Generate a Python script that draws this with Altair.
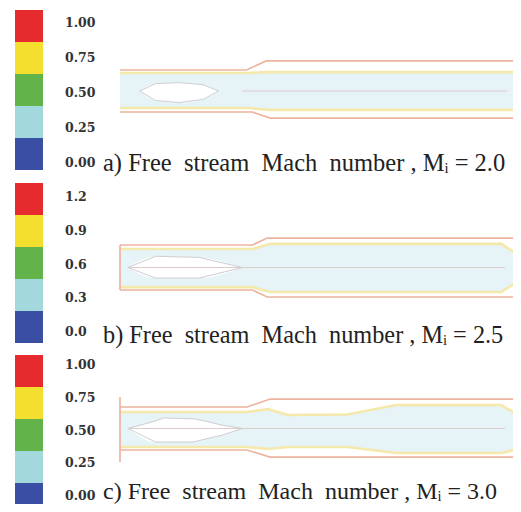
import altair as alt
import pandas as pd

# ---------------- colour bars ----------------
LEVEL_COLORS = ["#3a4ea3", "#a3d8dc", "#63b34b", "#f5df2e", "#e52b2e"]  # bottom -> top
LABELS_A = [0.00, 0.25, 0.50, 0.75, 1.00]
LABELS_B = [0.0, 0.3, 0.6, 0.9, 1.2]
LABELS_C = [0.00, 0.25, 0.50, 0.75, 1.00]
LABEL_FMT = ["{:.2f}", "{:.1f}", "{:.2f}"]
PREFIX = ["a)", "b)", "c)"]
MACH = [2.0, 2.5, 3.0]

# ---------------- contours (x = axial x/D, r = radial r/R) ----------------
# panel a, M = 2.0
A_OUT_TOP_X = [0, 6.4, 7.4, 20]
A_OUT_TOP_R = [1.0, 1.0, 1.43, 1.43]
A_OUT_BOT_X = [0, 6.7, 7.6, 20]
A_OUT_BOT_R = [-1.0, -1.0, -1.29, -1.29]
A_BAND_X = [0, 6.5, 7.5, 20]
A_BAND_TOP = [0.86, 0.86, 0.9, 0.9]
A_BAND_BOT = [-0.81, -0.81, -0.9, -0.9]
A_LENS_X = [1.0, 1.8, 3.0, 4.2, 5.0]
A_LENS_TOP = [0.0, 0.35, 0.4, 0.3, 0.0]
A_LENS_BOT = [0.0, -0.45, -0.55, -0.4, 0.0]
A_AXIS_X = [6.2, 19.6]
A_WALL_R = []

# panel b, M = 2.5
B_OUT_TOP_X = [0, 6.7, 7.45, 20]
B_OUT_TOP_R = [1.0, 1.0, 1.31, 1.31]
B_OUT_BOT_X = [0, 6.7, 7.45, 20]
B_OUT_BOT_R = [-1.0, -1.0, -1.31, -1.31]
B_BAND_X = [0, 6.7, 7.6, 19.3, 20]
B_BAND_TOP = [0.82, 0.82, 1.05, 1.05, 0.65]
B_BAND_BOT = [-0.87, -0.87, -1.09, -1.09, -0.7]
B_LENS_X = [0.4, 1.8, 4.0, 6.2]
B_LENS_TOP = [0.0, 0.5, 0.45, 0.0]
B_LENS_BOT = [0.0, -0.47, -0.47, 0.0]
B_AXIS_X = [0.4, 19.5]
B_WALL_R = [-1.0, 1.0]

# panel c, M = 3.0
C_OUT_TOP_X = [0, 6.43, 7.6, 20]
C_OUT_TOP_R = [1.0, 1.0, 1.37, 1.37]
C_OUT_BOT_X = [0, 6.43, 7.6, 20]
C_OUT_BOT_R = [-1.0, -1.0, -1.33, -1.33]
C_BAND_X = [0, 6.4, 7.5, 8.5, 11.5, 14.0, 19.3, 20]
C_BAND_TOP = [0.77, 0.77, 0.9, 0.63, 0.65, 1.09, 1.09, 0.72]
C_BAND_BOT = [-0.86, -0.86, -0.95, -0.86, -0.86, -1.14, -1.14, -1.0]
C_LENS_X = [0.4, 1.8, 2.2, 3.7, 4.05, 5.2, 6.2]
C_LENS_TOP = [0.0, 0.35, 0.49, 0.45, 0.4, 0.15, 0.0]
C_LENS_BOT = [0.0, -0.63, -0.63, -0.63, -0.55, -0.3, 0.0]
C_AXIS_X = [0.4, 19.5]
C_WALL_R = [-1.56, 1.46]

PANELS = [
    dict(out_top=(A_OUT_TOP_X, A_OUT_TOP_R), out_bot=(A_OUT_BOT_X, A_OUT_BOT_R),
         band=(A_BAND_X, A_BAND_TOP, A_BAND_BOT), lens=(A_LENS_X, A_LENS_TOP, A_LENS_BOT),
         axis=A_AXIS_X, wall=A_WALL_R, labels=LABELS_A),
    dict(out_top=(B_OUT_TOP_X, B_OUT_TOP_R), out_bot=(B_OUT_BOT_X, B_OUT_BOT_R),
         band=(B_BAND_X, B_BAND_TOP, B_BAND_BOT), lens=(B_LENS_X, B_LENS_TOP, B_LENS_BOT),
         axis=B_AXIS_X, wall=B_WALL_R, labels=LABELS_B),
    dict(out_top=(C_OUT_TOP_X, C_OUT_TOP_R), out_bot=(C_OUT_BOT_X, C_OUT_BOT_R),
         band=(C_BAND_X, C_BAND_TOP, C_BAND_BOT), lens=(C_LENS_X, C_LENS_TOP, C_LENS_BOT),
         axis=C_AXIS_X, wall=C_WALL_R, labels=LABELS_C),
]

# ---------------- layout (pixels inside the 505 x 496 chart) ----------------
W, H = 505, 496
X_RANGE = [112, 507]
Y_RANGES = [[125, 41], [304.5, 214.5], [463.5, 377.5]]
BAR_RANGES = [[162, 2], [335, 175], [507, 347]]
LABEL_RANGES = [[155, 15], [324, 189], [488, 357]]
CAPTION_Y = [163, 335, 491]
CAPTION_SIZE = [24.5, 24.3, 24]
STYLE = {
    "outer": ("#eeb4a0", 1.7),
    "wall": ("#eeb4a0", 1.7),
    "yellow": ("#f4e8ab", 2.6),
    "axis": ("#dccccb", 1.0),
    "lens": ("#cfcdd0", 1.0),
}
BAND_COLOR = "#e6f3f7"
SP = "\u00a0 "  # wide gap between words

layers = []
for p, P in enumerate(PANELS):
    xs = alt.Scale(domain=[0, 20], range=X_RANGE)
    ys = alt.Scale(domain=[-2, 2], range=Y_RANGES[p])

    # colour bar
    bar = pd.DataFrame({"lo": list(range(5)), "hi": [k + 1 for k in range(5)], "col": LEVEL_COLORS})
    layers.append(
        alt.Chart(bar).mark_rect().encode(
            x=alt.value(7), x2=alt.value(35),
            y=alt.Y("lo:Q", scale=alt.Scale(domain=[0, 5], range=BAR_RANGES[p]), axis=None),
            y2="hi:Q",
            color=alt.Color("col:N", scale=None),
        )
    )
    labs = P["labels"]
    ldf = pd.DataFrame({"v": labs, "t": [LABEL_FMT[p].format(v) for v in labs]})
    layers.append(
        alt.Chart(ldf).mark_text(align="left", baseline="middle", font="DejaVu Serif",
                                 fontWeight="bold", fontSize=12.5, color="#333333").encode(
            x=alt.value(57),
            y=alt.Y("v:Q", scale=alt.Scale(domain=[0, max(labs)], range=LABEL_RANGES[p]), axis=None),
            text="t:N",
        )
    )

    # band fill
    bx, btop, bbot = P["band"]
    bdf = pd.DataFrame({"x": bx, "top": btop, "bot": bbot})
    layers.append(
        alt.Chart(bdf).mark_area(color=BAND_COLOR, opacity=1).encode(
            x=alt.X("x:Q", scale=xs, axis=None),
            y=alt.Y("top:Q", scale=ys, axis=None), y2="bot:Q",
        )
    )
    # lens (white core)
    lx, ltop, lbot = P["lens"]
    ldf2 = pd.DataFrame({"x": lx, "top": ltop, "bot": lbot})
    layers.append(
        alt.Chart(ldf2).mark_area(color="#ffffff", opacity=1, interpolate="monotone").encode(
            x=alt.X("x:Q", scale=xs, axis=None),
            y=alt.Y("top:Q", scale=ys, axis=None), y2="bot:Q",
        )
    )

    # contour lines
    rows = []
    def add(seg, kind, xs_, rs_):
        for i, (a, b) in enumerate(zip(xs_, rs_)):
            rows.append({"seg": seg, "i": i, "x": a, "r": b,
                         "col": STYLE[kind][0], "w": STYLE[kind][1]})
    add("yt", "yellow", bx, btop)
    add("yb", "yellow", bx, bbot)
    add("lt", "lens", lx, ltop)
    add("lb", "lens", lx, lbot)
    add("ax", "axis", P["axis"], [0] * len(P["axis"]))
    add("ot", "outer", *P["out_top"])
    add("ob", "outer", *P["out_bot"])
    if P["wall"]:
        add("wl", "wall", [0] * len(P["wall"]), P["wall"])
    cdf = pd.DataFrame(rows)
    layers.append(
        alt.Chart(cdf).mark_line().encode(
            x=alt.X("x:Q", scale=xs, axis=None),
            y=alt.Y("r:Q", scale=ys, axis=None),
            detail="seg:N", order="i:Q",
            color=alt.Color("col:N", scale=None),
            strokeWidth=alt.StrokeWidth("w:Q", scale=None),
        )
    )

    # caption
    cap_text = (f"{PREFIX[p]} Free{SP}stream{SP}Mach{SP}number , M\u1d62 = {MACH[p]:.1f}")
    cap = pd.DataFrame({"t": [cap_text]})
    layers.append(
        alt.Chart(cap).mark_text(align="left", baseline="alphabetic", font="Liberation Serif",
                                 fontSize=CAPTION_SIZE[p], color="#222222").encode(
            x=alt.value(95), y=alt.value(CAPTION_Y[p]), text="t:N",
        )
    )

chart = alt.layer(*layers).resolve_scale(
    x="independent", y="independent"
).properties(
    width=W, height=H, padding=0, autosize=alt.AutoSizeParams(type="none"),
    background="#ffffff",
).configure_view(stroke=None)

chart.save("out.html", embed_options={"renderer": "svg", "actions": False})
